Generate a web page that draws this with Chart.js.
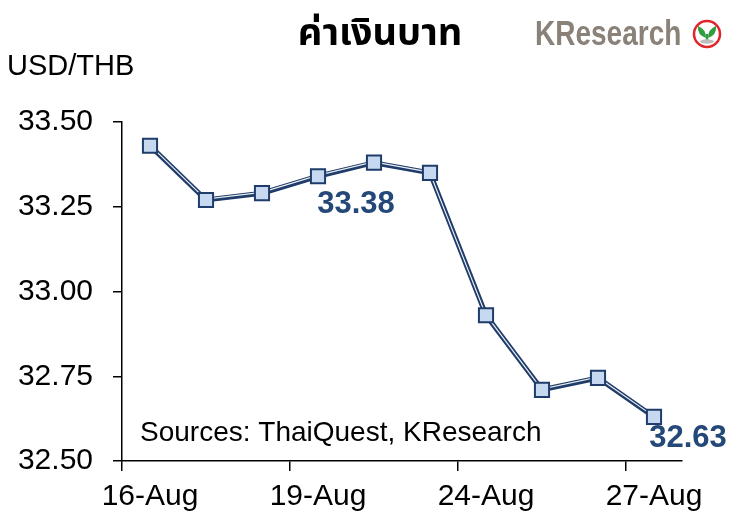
<!DOCTYPE html>
<html>
<head>
<meta charset="utf-8">
<script src="https://cdn.jsdelivr.net/npm/chart.js@4.4.4/dist/chart.umd.min.js"></script>
<style>
  html, body { margin: 0; padding: 0; background: #fff; }
  #wrap { width: 745px; height: 530px; position: relative; }
</style>
</head>
<body>
<div id="wrap"><canvas id="fx"></canvas></div>
<script>
// ─── Data ────────────────────────────────────────────────────────────────────
const dates   = ['16-Aug', '17-Aug', '18-Aug', '19-Aug', '20-Aug', '23-Aug', '24-Aug', '25-Aug', '26-Aug', '27-Aug'];
const usdThb  = [33.43, 33.27, 33.29, 33.34, 33.38, 33.35, 32.93, 32.71, 32.745, 32.63];
const yTicks  = [32.50, 32.75, 33.00, 33.25, 33.50];
const callouts = [4, 9];            // indices of points whose value is written out

const TITLE  = 'ค่าเงินบาท';
const YLABEL = 'USD/THB';
const SOURCE = 'Sources: ThaiQuest, KResearch';

const NAVY  = '#1f3c6a';
const FILL  = '#c6d9f0';
const LABEL = '#244877';
const FONT  = "'Liberation Sans', Arial, sans-serif";

// ─── Plugins ─────────────────────────────────────────────────────────────────
// nudge the white highlight line a touch up, like the original double line
const shiftPlugin = {
  id: 'shift',
  beforeDatasetDraw(chart, args) {
    if (args.index !== 1) return;
    chart.ctx.save();
    chart.ctx.translate(-0.4, -0.8);
  },
  afterDatasetDraw(chart, args) {
    if (args.index !== 1) return;
    chart.ctx.restore();
  },
};

function drawLogo(ctx) {
  // word mark, squeezed to the narrow look of the original
  ctx.save();
  ctx.fillStyle = '#8a8178';
  ctx.textAlign = 'left';
  ctx.textBaseline = 'alphabetic';
  ctx.font = 'bold 35px ' + FONT;
  ctx.translate(535, 45);
  ctx.scale(0.8, 1);
  ctx.fillText('KResearch', 0, 0);
  ctx.restore();

  const cx = 707, cy = 34;
  ctx.save();
  ctx.beginPath();
  ctx.arc(cx, cy, 13, 0, Math.PI * 2);
  ctx.fillStyle = '#fff';
  ctx.fill();
  ctx.lineWidth = 2.5;
  ctx.strokeStyle = '#e0262b';
  ctx.stroke();

  // two leaves and a stem
  ctx.fillStyle = '#2f9e3f';
  ctx.beginPath();
  ctx.moveTo(cx - 1, cy + 4);
  ctx.quadraticCurveTo(cx - 10, cy + 1, cx - 9, cy - 8);
  ctx.quadraticCurveTo(cx - 1, cy - 5, cx - 1, cy + 4);
  ctx.fill();
  ctx.beginPath();
  ctx.moveTo(cx + 1, cy + 4);
  ctx.quadraticCurveTo(cx + 10, cy + 1, cx + 9, cy - 8);
  ctx.quadraticCurveTo(cx + 1, cy - 5, cx + 1, cy + 4);
  ctx.fill();
  ctx.fillRect(cx - 1.2, cy, 2.4, 6);
  ctx.fillStyle = '#bdbdbd';
  ctx.beginPath();
  ctx.ellipse(cx, cy + 7.5, 7, 2.2, 0, 0, Math.PI * 2);
  ctx.fill();
  ctx.restore();
}

const textPlugin = {
  id: 'texts',
  afterDraw(chart) {
    const ctx = chart.ctx;
    const xs = chart.scales.x;
    const ys = chart.scales.y;
    ctx.save();

    // title
    ctx.fillStyle = '#000';
    ctx.textAlign = 'center';
    ctx.textBaseline = 'middle';
    ctx.font = "bold 38px 'Noto Sans Thai', Tahoma, Loma, " + FONT;
    ctx.fillText(TITLE, 380, 37);

    // y unit
    ctx.textAlign = 'left';
    ctx.font = '29px ' + FONT;
    ctx.fillText(YLABEL, 7, 67);

    // source note
    ctx.font = '28px ' + FONT;
    ctx.fillText(SOURCE, 140, 433);

    // value callouts
    ctx.fillStyle = LABEL;
    ctx.textAlign = 'center';
    ctx.font = 'bold 31px ' + FONT;
    const offs = [[-18, 42], [34, 22]];
    callouts.forEach((i, k) => {
      const px = xs.getPixelForValue(i);
      const py = ys.getPixelForValue(usdThb[i]);
      ctx.fillText(usdThb[i].toFixed(2), px + offs[k][0], py + offs[k][1]);
    });
    ctx.restore();

    drawLogo(ctx);
  },
};

// ─── Chart ───────────────────────────────────────────────────────────────────
Chart.defaults.font.family = FONT;
Chart.defaults.color = '#000';

new Chart(document.getElementById('fx'), {
  type: 'line',
  data: {
    labels: dates,
    datasets: [
      {
        data: usdThb,
        showLine: false,
        pointStyle: 'rect',
        pointRadius: 10,
        pointBorderWidth: 2,
        pointBackgroundColor: FILL,
        pointBorderColor: NAVY,
      },
      {
        data: usdThb,
        borderColor: 'rgba(255,255,255,0.9)',
        borderWidth: 1.2,
        pointRadius: 0,
        tension: 0,
      },
      {
        data: usdThb,
        borderColor: NAVY,
        borderWidth: 5,
        pointRadius: 0,
        tension: 0,
      },
    ],
  },
  plugins: [shiftPlugin, textPlugin],
  options: {
    responsive: true,
    maintainAspectRatio: false,
    animation: false,
    events: [],
    layout: { padding: { top: 122, right: 63, left: 0, bottom: 0 } },
    plugins: { legend: { display: false }, tooltip: { enabled: false } },
    scales: {
      x: {
        offset: true,
        grid: {
          offset: true,
          drawOnChartArea: false,
          tickLength: 10,
          lineWidth: 1.5,
          color: c => (c.index % 3 === 0 && c.index < dates.length ? '#000' : 'rgba(0,0,0,0)'),
        },
        border: { color: '#000', width: 1.5 },
        ticks: {
          autoSkip: false,
          maxRotation: 0,
          padding: 8,
          font: { size: 30 },
          callback: (v, i) => (i % 3 === 0 ? dates[i] : ''),
        },
        afterFit: s => { s.height = 69; },
      },
      y: {
        min: yTicks[0],
        max: yTicks[yTicks.length - 1],
        afterBuildTicks: s => { s.ticks = yTicks.map(v => ({ value: v })); },
        grid: { drawOnChartArea: false, tickLength: 9, lineWidth: 1.5, color: '#000' },
        border: { color: '#000', width: 1.5 },
        ticks: {
          padding: 20,
          font: { size: 30 },
          callback: v => v.toFixed(2),
        },
        afterFit: s => { s.width = 122; },
      },
    },
  },
});
</script>
</body>
</html>
